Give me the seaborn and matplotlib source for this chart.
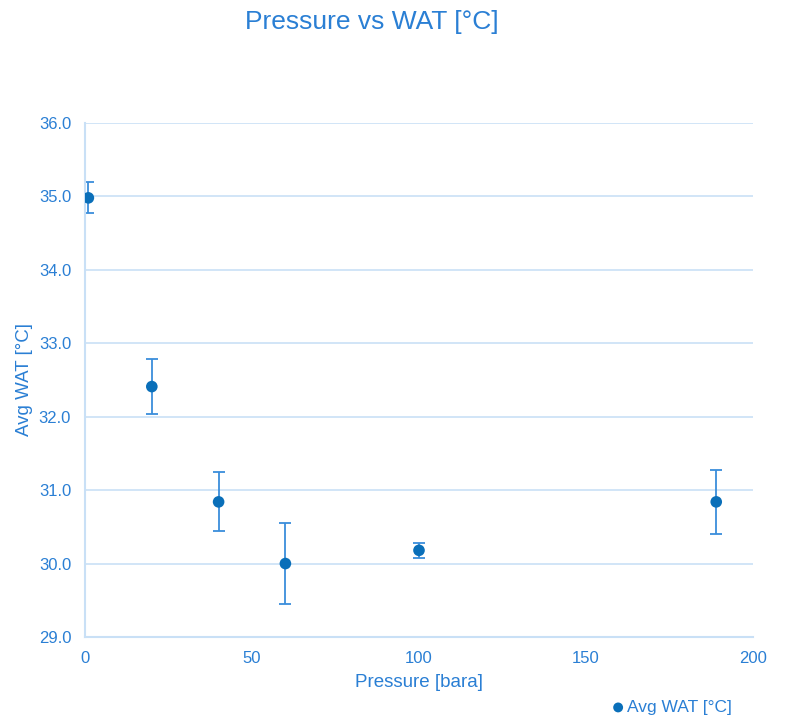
import matplotlib
matplotlib.use("Agg")
import matplotlib.pyplot as plt
import pandas as pd
import seaborn as sns
from matplotlib.ticker import FormatStrFormatter

# data
pressure = [1, 20, 40, 60, 100, 189]
avg_wat = [34.98, 32.41, 30.84, 30.00, 30.18, 30.84]
wat_err = [0.21, 0.38, 0.40, 0.55, 0.10, 0.44]
x_ticks = [0, 50, 100, 150, 200]
y_ticks = [29.0, 30.0, 31.0, 32.0, 33.0, 34.0, 35.0, 36.0]

df = pd.DataFrame({"Pressure": pressure, "WAT": avg_wat, "err": wat_err})

sns.set_theme(style="white")
plt.rcParams['font.family'] = ['Liberation Sans', 'DejaVu Sans']

text_col = "#2A7FD4"
grid_col = "#C9E0F6"
mark_col = "#0A6FB9"
err_col = "#3A8EDB"

fig = plt.figure(figsize=(7.85, 7.17), dpi=100)
ax = fig.add_axes([0.1083, 0.1116, 0.8509, 0.7169])

ax.errorbar(df["Pressure"], df["WAT"], yerr=df["err"], fmt="none",
            ecolor=err_col, elinewidth=1.3, capsize=4.5, capthick=1.3, zorder=2)
sns.scatterplot(data=df, x="Pressure", y="WAT", ax=ax, color=mark_col,
                s=70, edgecolor="none", label="Avg WAT [°C]", zorder=3)

ax.set_xlim(0, 200)
ax.set_ylim(29, 36)
ax.set_xticks(x_ticks)
ax.set_yticks(y_ticks)
ax.yaxis.set_major_formatter(FormatStrFormatter('%.1f'))
ax.grid(axis="y", color=grid_col, linewidth=1.2)
ax.set_axisbelow(True)
for side in ["top", "right"]:
    ax.spines[side].set_visible(False)
for side in ["left", "bottom"]:
    ax.spines[side].set_color(grid_col)
    ax.spines[side].set_linewidth(1.5)
ax.tick_params(axis="both", length=0, labelsize=12, colors=text_col, pad=10)

ax.set_xlabel("Pressure [bara]", fontsize=13.5, color=text_col, labelpad=6)
ax.set_ylabel("Avg WAT [°C]", fontsize=13.5, color=text_col, labelpad=4)
fig.text(0.474, 0.970, "Pressure vs WAT [°C]", fontsize=19, color=text_col,
         ha="center", va="center")

leg = ax.legend(loc="lower right", bbox_to_anchor=(0.952, -0.019),
                bbox_transform=fig.transFigure, frameon=False, fontsize=12.5,
                handlelength=0.8, handletextpad=0.1, markerscale=0.85)
for t in leg.get_texts():
    t.set_color(text_col)

fig.savefig("out.png", dpi=100)
